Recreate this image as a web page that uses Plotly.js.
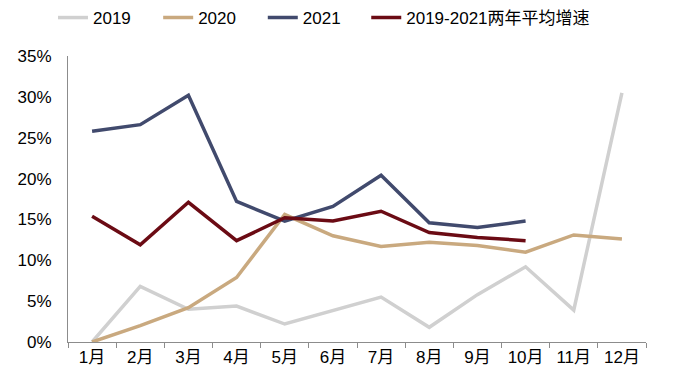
<!DOCTYPE html>
<html><head><meta charset="utf-8">
<script src="https://cdn.plot.ly/plotly-3.0.1.min.js"></script>
<style>html,body{margin:0;padding:0;background:#fff}#c{width:680px;height:383px}</style>
</head><body><div id="c"></div>
<script>
const months = ['1月','2月','3月','4月','5月','6月','7月','8月','9月','10月','11月','12月'];
const s2019 = [0, 6.8, 4.0, 4.4, 2.2, 3.8, 5.5, 1.8, 5.8, 9.2, 3.9, 30.5];
const s2020 = [0, 2.0, 4.2, 7.9, 15.6, 13.0, 11.7, 12.2, 11.8, 11.0, 13.1, 12.6];
const s2021 = [25.8, 26.6, 30.2, 17.2, 14.8, 16.6, 20.4, 14.6, 14.0, 14.8];
const sAvg  = [15.4, 11.9, 17.1, 12.4, 15.2, 14.8, 16.0, 13.4, 12.8, 12.4];
const names = ['2019','2020','2021','2019-2021两年平均增速'];
const colors = ['#d0d0d0','#c9a97f','#414a6d','#6b0b14'];
const series = [s2019, s2020, s2021, sAvg];
const legendIds = ['legend','legend2','legend3','legend4'];
const legendX = [-0.026, 0.156, 0.337, 0.516];
const traces = series.map((s,i)=>({
  x: months.slice(0, s.length), y: s, name: names[i], type:'scatter', mode:'lines',
  line:{color:colors[i], width:3.5}, legend: legendIds[i]
}));
const layout = {
  width:680, height:383,
  margin:{l:68, r:34, t:56, b:41, autoexpand:false},
  paper_bgcolor:'#fff', plot_bgcolor:'#fff',
  font:{family:'Liberation Sans, Arial, Noto Sans CJK SC, sans-serif', size:17, color:'#000'},
  showlegend:true,
  xaxis:{type:'category', range:[-0.5,11.5], showline:true, linecolor:'#8c8c8c', linewidth:1,
    ticks:'outside', tickson:'boundaries', ticklen:5, tickcolor:'#8c8c8c', showgrid:false, zeroline:false},
  yaxis:{range:[0,35], dtick:5, ticksuffix:'%', showline:true, linecolor:'#8c8c8c', linewidth:1,
    ticks:'', showgrid:false, zeroline:false, ticklabelstandoff:12}
};
legendIds.forEach((id,i)=>{
  layout[id] = {orientation:'h', x:legendX[i], xanchor:'left', y:0.953, yref:'container', yanchor:'middle',
    font:{size:17}, bgcolor:'rgba(0,0,0,0)'};
});
Plotly.newPlot('c', traces, layout, {displayModeBar:false, staticPlot:true});
</script></body></html>
